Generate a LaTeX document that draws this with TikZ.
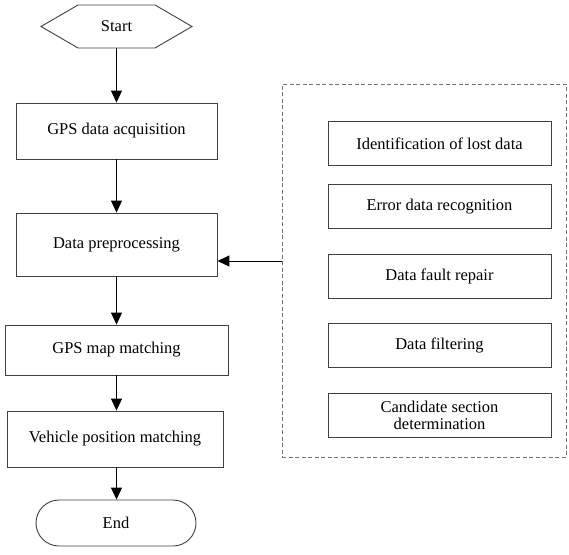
\documentclass[tikz,border=0pt]{standalone}
\usepackage{fontspec}
\setmainfont{Liberation Serif}
\usetikzlibrary{arrows.meta,shapes.misc}
\begin{document}
\begin{tikzpicture}[x=1pt,y=-1pt,
  every node/.style={font=\fontsize{16.5}{17}\selectfont, align=center, inner sep=0pt},
  procbox/.style={draw=black!75, line width=0.9pt, rectangle},
  subbox/.style={procbox, minimum width=223pt, minimum height=44pt},
  groupbox/.style={draw=black!55, line width=0.9pt, dash pattern=on 4pt off 2.5pt, rectangle},
  arr/.style={draw=black, line width=1pt, -{Triangle[length=12pt,width=11pt]}}]
\useasboundingbox (0,0) rectangle (569,554);

% start terminal (hexagon)
\node (start) at (116.5,26.5) {Start};
\draw[draw=black!75, line width=0.9pt]
  (41,26.5) -- (78,5) -- (155,5) -- (192,26.5) -- (155,48) -- (78,48) -- cycle;
\coordinate (startbot) at (116.5,48);

% main flow
\node[procbox, minimum width=201pt, minimum height=56pt] (acq) at (116.5,131) {GPS data acquisition};
\node[procbox, minimum width=201pt, minimum height=63pt] (pre) at (116.5,244.5) {Data preprocessing};
\node[procbox, minimum width=223pt, minimum height=50pt] (map) at (116.5,350) {GPS map matching};
\node[procbox, minimum width=216pt, minimum height=56pt] (veh) at (115,439) {Vehicle position matching};
\node[draw=black!75, line width=0.9pt, rounded rectangle, minimum width=160pt, minimum height=46pt] (end) at (116,523) {End};

\draw[arr] (startbot) -- (startbot |- acq.north);
\draw[arr] (acq.south -| startbot) -- (pre.north -| startbot);
\draw[arr] (pre.south -| startbot) -- (map.north -| startbot);
\draw[arr] (map.south -| startbot) -- (veh.north -| startbot);
\draw[arr] (veh.south -| startbot) -- (end.north -| startbot);

% preprocessing steps
\node[groupbox, minimum width=284pt, minimum height=373pt] (grp) at (424,270.5) {};
\node[subbox] (s1) at (439.5,143.5) {Identification of lost data};
\node[subbox] (s2) at (439.5,206.5) {Error data recognition};
\node[subbox] (s3) at (439.5,276) {Data fault repair};
\node[subbox] (s4) at (439.5,345.5) {Data filtering};
\node[subbox] (s5) at (439.5,415) {Candidate section\\determination};

\coordinate (tap) at (grp.west |- 0,261);
\draw[arr] (tap) -- (pre.east |- tap);
\end{tikzpicture}
\end{document}
